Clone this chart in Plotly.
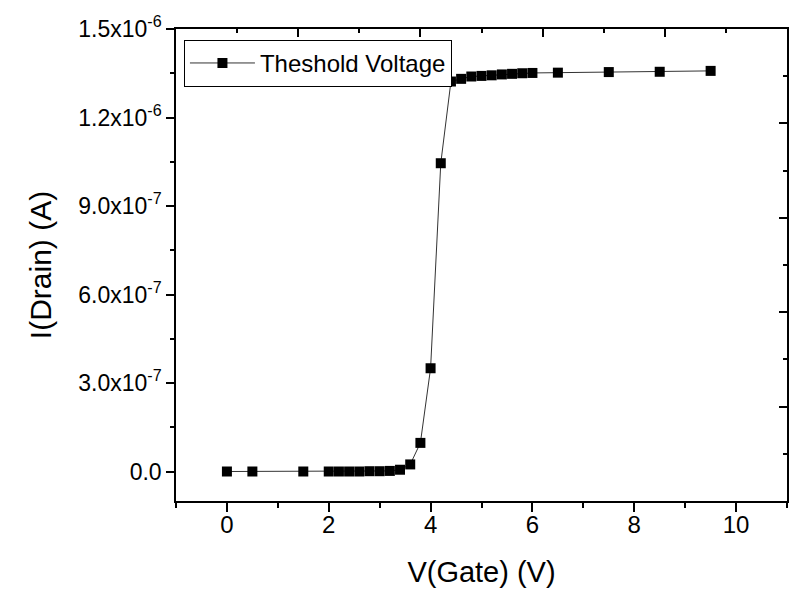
import plotly.graph_objects as go

# Data
v_gate = [0, 0.5, 1.5, 2.0, 2.2, 2.4, 2.6, 2.8, 3.0, 3.2, 3.4, 3.6, 3.8, 4.0,
          4.2, 4.4, 4.6, 4.8, 5.0, 5.2, 5.4, 5.6, 5.8, 6.0, 6.5, 7.5, 8.5, 9.5]
i_drain = [0.0, 0.0, 0.0, 0.0, 0.0, 0.0, 0.0, 1e-9, 1e-9, 2e-9, 6e-9, 2.4e-8, 9.7e-8, 3.5e-7,
           1.045e-6, 1.322e-6, 1.331e-6, 1.339e-6, 1.341e-6, 1.343e-6, 1.346e-6, 1.348e-6,
           1.350e-6, 1.351e-6, 1.352e-6, 1.354e-6, 1.355e-6, 1.358e-6]
series_name = "Theshold Voltage"

x_tickvals = [0, 2, 4, 6, 8, 10]
x_ticktext = ["0", "2", "4", "6", "8", "10"]
y_tickvals = [0, 3e-7, 6e-7, 9e-7, 1.2e-6, 1.5e-6]
y_ticktext = ["0.0", "3.0x10<sup>-7</sup>", "6.0x10<sup>-7</sup>", "9.0x10<sup>-7</sup>",
              "1.2x10<sup>-6</sup>", "1.5x10<sup>-6</sup>"]
x_range = [-1, 11]
y_range = [-1e-7, 1.5e-6]

FONT = "Liberation Sans, Arial, sans-serif"

fig = go.Figure()
fig.add_trace(go.Scatter(
    x=v_gate, y=i_drain, mode="lines+markers", name=series_name,
    line=dict(color="#333333", width=1),
    marker=dict(symbol="square", size=10, color="black"),
))
# invisible trace to anchor the mirrored (top/right) axes
fig.add_trace(go.Scatter(
    x=v_gate, y=i_drain, xaxis="x2", yaxis="y2", mode="markers",
    marker=dict(opacity=0), showlegend=False, hoverinfo="skip",
))

fig.update_layout(
    width=810, height=603,
    margin=dict(l=168, r=31, t=21, b=110),
    paper_bgcolor="white", plot_bgcolor="white",
    font=dict(family=FONT, color="black", size=23),
    showlegend=True,
    legend=dict(
        x=0.013, y=0.977, xanchor="left", yanchor="top",
        bgcolor="white", bordercolor="black", borderwidth=1,
        font=dict(size=24, family=FONT),
        itemwidth=65,
    ),
    xaxis=dict(
        range=x_range, showgrid=False, zeroline=False, automargin=False,
        showline=True, linecolor="black", linewidth=1.5,
        tickmode="array", tickvals=x_tickvals, ticktext=x_ticktext,
        ticks="outside", ticklen=9, tickwidth=1.5, tickcolor="black",
        minor=dict(tickmode="linear", tick0=-1, dtick=1, ticks="outside",
                   ticklen=5, tickwidth=1.5, tickcolor="black", showgrid=False),
        tickfont=dict(size=24, family=FONT),
        ticklabelstandoff=-8,
        title=dict(text="V(Gate) (V)", font=dict(size=29, family=FONT), standoff=25),
    ),
    yaxis=dict(
        range=y_range, showgrid=False, zeroline=False, automargin=False,
        showline=True, linecolor="black", linewidth=1.5,
        tickmode="array", tickvals=y_tickvals, ticktext=y_ticktext,
        ticks="outside", ticklen=8, tickwidth=1.5, tickcolor="black",
        minor=dict(tickmode="linear", tick0=0, dtick=1.5e-7, ticks="outside",
                   ticklen=4, tickwidth=1.5, tickcolor="black", showgrid=False),
        tickfont=dict(size=23, family=FONT),
        ticklabelstandoff=0,
        title=dict(text="I(Drain) (A)", font=dict(size=30, family=FONT), standoff=18),
    ),
    xaxis2=dict(
        overlaying="x", side="top", anchor="y", range=x_range, automargin=False,
        showgrid=False, zeroline=False, showticklabels=False,
        showline=True, linecolor="black", linewidth=1.5,
        tickmode="linear", tick0=-1, dtick=2.4,
        ticks="inside", ticklen=8, tickwidth=1.5, tickcolor="black",
        minor=dict(tickmode="linear", tick0=-1, dtick=1.2, ticks="inside",
                   ticklen=4, tickwidth=1.5, tickcolor="black", showgrid=False),
    ),
    yaxis2=dict(
        overlaying="y", side="right", anchor="x", range=y_range, automargin=False,
        showgrid=False, zeroline=False, showticklabels=False,
        showline=True, linecolor="black", linewidth=1.5,
        tickmode="linear", tick0=-1e-7, dtick=3.2e-7,
        ticks="inside", ticklen=8, tickwidth=1.5, tickcolor="black",
        minor=dict(tickmode="linear", tick0=-1e-7, dtick=1.6e-7, ticks="inside",
                   ticklen=4, tickwidth=1.5, tickcolor="black", showgrid=False),
    ),
)

fig.write_html("out.html")
